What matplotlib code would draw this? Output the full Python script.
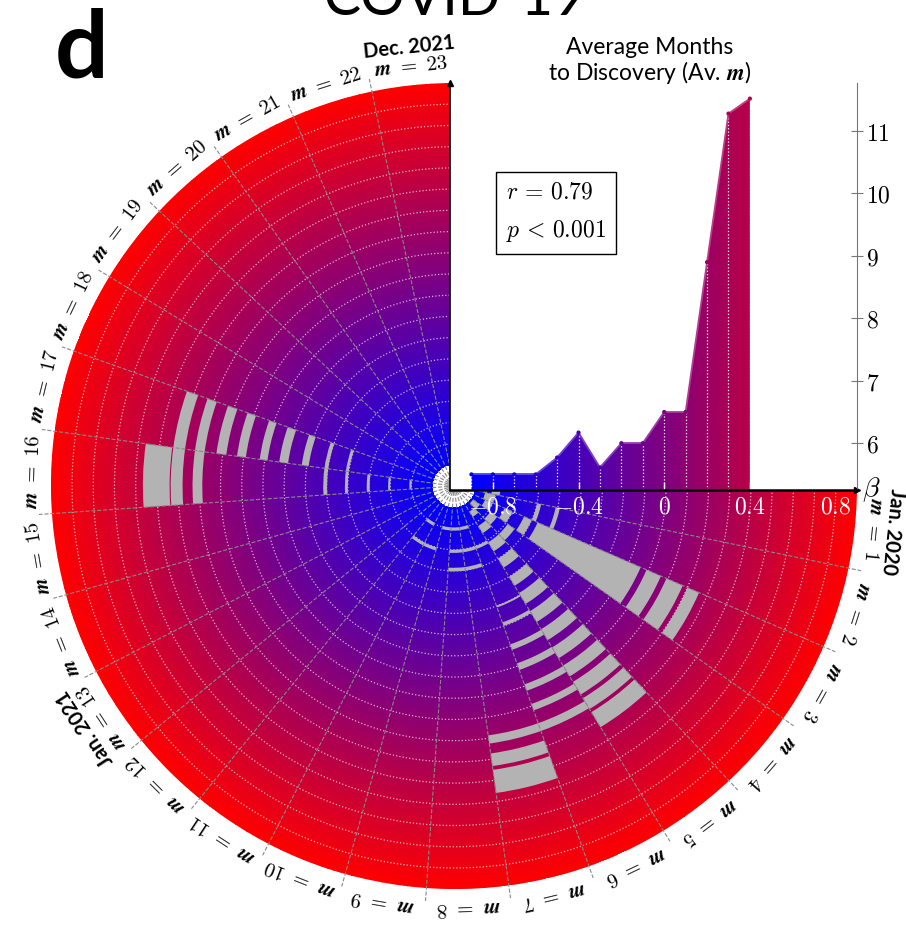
import numpy as np
import matplotlib.pyplot as plt
from matplotlib.colors import LinearSegmentedColormap
from matplotlib.collections import LineCollection

plt.rcParams['mathtext.fontset'] = 'cm'

# months around the wheel
n_months = 23
months = list(range(1, n_months + 1))
month_labels = [r'$\mathbfit{m}\ =\ \mathbf{%d}$' % m for m in months]
year_labels = {1: 'Jan. 2020', 13: 'Jan. 2021', 23: 'Dec. 2021'}

# inset: average months to discovery per beta bin
beta = [-0.9, -0.8, -0.7, -0.6, -0.5, -0.4, -0.3, -0.2, -0.1, 0.0, 0.1, 0.2, 0.3, 0.4]
av_m = [5.5, 5.5, 5.5, 5.5, 5.77, 6.17, 5.61, 6.0, 6.0, 6.5, 6.5, 8.9, 11.28, 11.52]

# grey cells: first month, last month, inner beta, outer beta
seg_m0 = [16, 16, 16, 17, 17, 17, 17, 17, 16, 16, 16, 16, 16,
          7, 7, 6, 6, 6, 6, 6, 6, 6, 7, 6, 7,
          5, 5, 5, 5, 5, 5, 5, 5, 5, 5, 5, 5, 5,
          3, 3, 3, 3, 3, 3, 3,
          4, 4, 4, 2, 2, 2, 1, 1, 11, 10]
seg_m1 = [16, 17, 17, 17, 17, 17, 17, 17, 17, 17, 16, 16, 16,
          7, 7, 7, 6, 6, 6, 6, 6, 6, 9, 8, 8,
          5, 5, 5, 5, 5, 5, 5, 5, 5, 5, 5, 5, 5,
          3, 3, 3, 3, 3, 3, 3,
          4, 4, 4, 2, 2, 2, 1, 1, 11, 11]
seg_lo = [0.340, 0.279, 0.186, 0.083, -0.010, -0.113, -0.211, -0.309, -0.402, -0.500, -0.603, -0.700, -0.800,
          0.350, 0.272, 0.186, 0.090, -0.008, -0.113, -0.208, -0.318, -0.402, -0.805, -0.700, -0.615,
          -0.86, -0.78, -0.69, -0.60, -0.50, -0.41, -0.31, -0.21, -0.11, -0.01, 0.08, 0.17, 0.247,
          -0.84, -0.74, -0.64, -0.57, -0.01, 0.092, 0.20,
          -0.79, -0.69, -0.89, -0.85, -0.60, -0.51, -0.88, -0.82, -0.805, -0.70]
seg_hi = [0.466, 0.335, 0.232, 0.130, 0.032, -0.076, -0.169, -0.276, -0.384, -0.486, -0.589, -0.690, -0.790,
          0.460, 0.332, 0.225, 0.122, 0.024, -0.080, -0.181, -0.300, -0.393, -0.790, -0.685, -0.598,
          -0.83, -0.74, -0.64, -0.55, -0.45, -0.35, -0.25, -0.15, -0.05, 0.05, 0.15, 0.23, 0.330,
          -0.80, -0.70, -0.60, -0.04, 0.064, 0.176, 0.26,
          -0.75, -0.65, -0.85, -0.80, -0.58, -0.49, -0.84, -0.78, -0.790, -0.685]

cmap = LinearSegmentedColormap.from_list('blue_red', ['#0000ff', '#ff0000'])
vmin, vmax = -0.9, 0.9
r_lo, r_hi = -1.0, 0.9
dth = np.deg2rad(270 / n_months)

fig = plt.figure(figsize=(9.06, 9.38), dpi=100)
ax = fig.add_axes([43 / 906, 41 / 938, 814 / 906, 814 / 938], projection='polar')
ax.set_theta_zero_location('E')
ax.set_theta_direction(-1)
ax.set_thetamin(0)
ax.set_thetamax(270)
ax.set_rlim(r_lo, r_hi)
ax.axis('off')

# radial colour gradient
th = np.linspace(0, np.deg2rad(270), 300)
rr = np.linspace(-0.9, r_hi, 200)
TH, RR = np.meshgrid(th, rr)
ax.pcolormesh(TH, RR, RR[:-1, :-1], cmap=cmap, vmin=vmin, vmax=vmax, shading='flat')

# dotted circles every 0.1
for rc in np.arange(-0.8, 0.85, 0.1):
    ax.plot(th, np.full_like(th, rc), color='white', ls=':', lw=0.9, alpha=0.7)

# grey cells
for m0, m1, lo, hi in zip(seg_m0, seg_m1, seg_lo, seg_hi):
    width = (m1 - m0 + 1) * dth
    ax.bar((m0 - 1) * dth + width / 2, hi - lo, width=width, bottom=lo,
           color='#b3b3b3', edgecolor='none', zorder=3)

# month boundaries
for k in range(1, n_months):
    ax.plot([k * dth, k * dth], [r_lo, 0.96], color='#888888', ls='--', lw=0.8,
            zorder=4, clip_on=False)
ax.plot(th, np.full_like(th, -0.975), color='#999999', lw=1.2, zorder=4)

# month labels
for m, lab in zip(months, month_labels):
    t = (m - 0.5) * dth
    rot = -np.rad2deg(t) - 90
    ax.text(t, 0.99, lab, rotation=rot, rotation_mode='anchor', ha='center', va='center',
            fontsize=15, clip_on=False)
    if m in year_labels:
        ax.text(t, 1.08, year_labels[m], rotation=rot, rotation_mode='anchor', ha='center',
                va='center', fontsize=14.5, fontweight='bold', family='Lato', clip_on=False)

# inset: average months
ax2 = fig.add_axes([450 / 906, 448 / 938, 407 / 906, 407 / 938])
ax2.set_facecolor('white')
ax2.set_xlim(r_lo, r_hi)
ax2.set_ylim(5.25, 11.77)
fill = ax2.fill_between(beta, av_m, 5.25, color='none')
grad = ax2.imshow(np.linspace(r_lo, r_hi, 256).reshape(1, -1), cmap=cmap, vmin=vmin, vmax=vmax,
                  extent=[r_lo, r_hi, 5.25, 11.77], aspect='auto', origin='lower', zorder=1)
grad.set_clip_path(fill.get_paths()[0], transform=ax2.transData)
ax2.vlines(beta, 5.25, av_m, colors='white', linestyles=':', lw=0.9, zorder=2)
pts = np.column_stack([beta, av_m])
segs = np.stack([pts[:-1], pts[1:]], axis=1)
mids = (np.array(beta[:-1]) + np.array(beta[1:])) / 2
lc_cols = cmap((mids - vmin) / (vmax - vmin))
lc_cols[:, :3] = lc_cols[:, :3] * 0.75 + 0.25
ax2.add_collection(LineCollection(segs, colors=lc_cols, lw=1.3, zorder=3))
ax2.scatter(beta, av_m, s=4, c=beta, cmap=cmap, vmin=vmin, vmax=vmax, zorder=4)

ax2.text(-0.74, 9.71, '$r\\,=\\,0.79$\n$p\\,<\\,0.001$', fontsize=17, va='center', ha='left',
         linespacing=1.75, bbox=dict(boxstyle='square,pad=0.42', fc='white', ec='black', lw=1))

ax2.spines['top'].set_visible(False)
ax2.spines['left'].set_color('black')
ax2.spines['left'].set_linewidth(1.2)
ax2.spines['bottom'].set_color('black')
ax2.spines['bottom'].set_linewidth(1.8)
ax2.spines['right'].set_color('#777777')
ax2.spines['right'].set_linewidth(0.8)
ax2.plot(1, 0, '>k', ms=5, transform=ax2.transAxes, clip_on=False)
ax2.plot(0, 1, '^k', ms=4, transform=ax2.transAxes, clip_on=False)

ax2.set_xticks([-0.8, -0.4, 0, 0.4, 0.8])
ax2.set_xticklabels(['$-0.8$', '$-0.4$', '$0$', '$0.4$', '$0.8$'])
ax2.tick_params(axis='x', colors='white', direction='in', length=6, width=1, labelsize=17, pad=3)
ax2.yaxis.tick_right()
ax2.set_yticks(range(6, 12))
ax2.set_yticklabels(['$%d$' % v for v in range(6, 12)])
ax2.tick_params(axis='y', colors='#777777', labelcolor='black', direction='inout', length=9,
                width=0.8, labelsize=17, pad=2)
ax2.text(1.012, 0, r'$\beta$', transform=ax2.transAxes, fontsize=20, ha='left', va='center')

fig.text(650 / 906, 1 - 48 / 938, 'Average Months', ha='center', va='center', fontsize=16.5,
         family='Lato')
fig.text(650 / 906, 1 - 73 / 938, r'to Discovery (Av. $\mathbfit{m}$)', ha='center', va='center',
         fontsize=16.5, family='Lato')
fig.text(455 / 906, 1 - 15 / 938, 'COVID-19', ha='center', va='baseline', fontsize=40, family='Lato')
fig.text(55 / 906, 1 - 78 / 938, 'd', ha='left', va='baseline', fontsize=68, fontweight='bold',
         family='Lato')

fig.savefig('out.png', dpi=100)
